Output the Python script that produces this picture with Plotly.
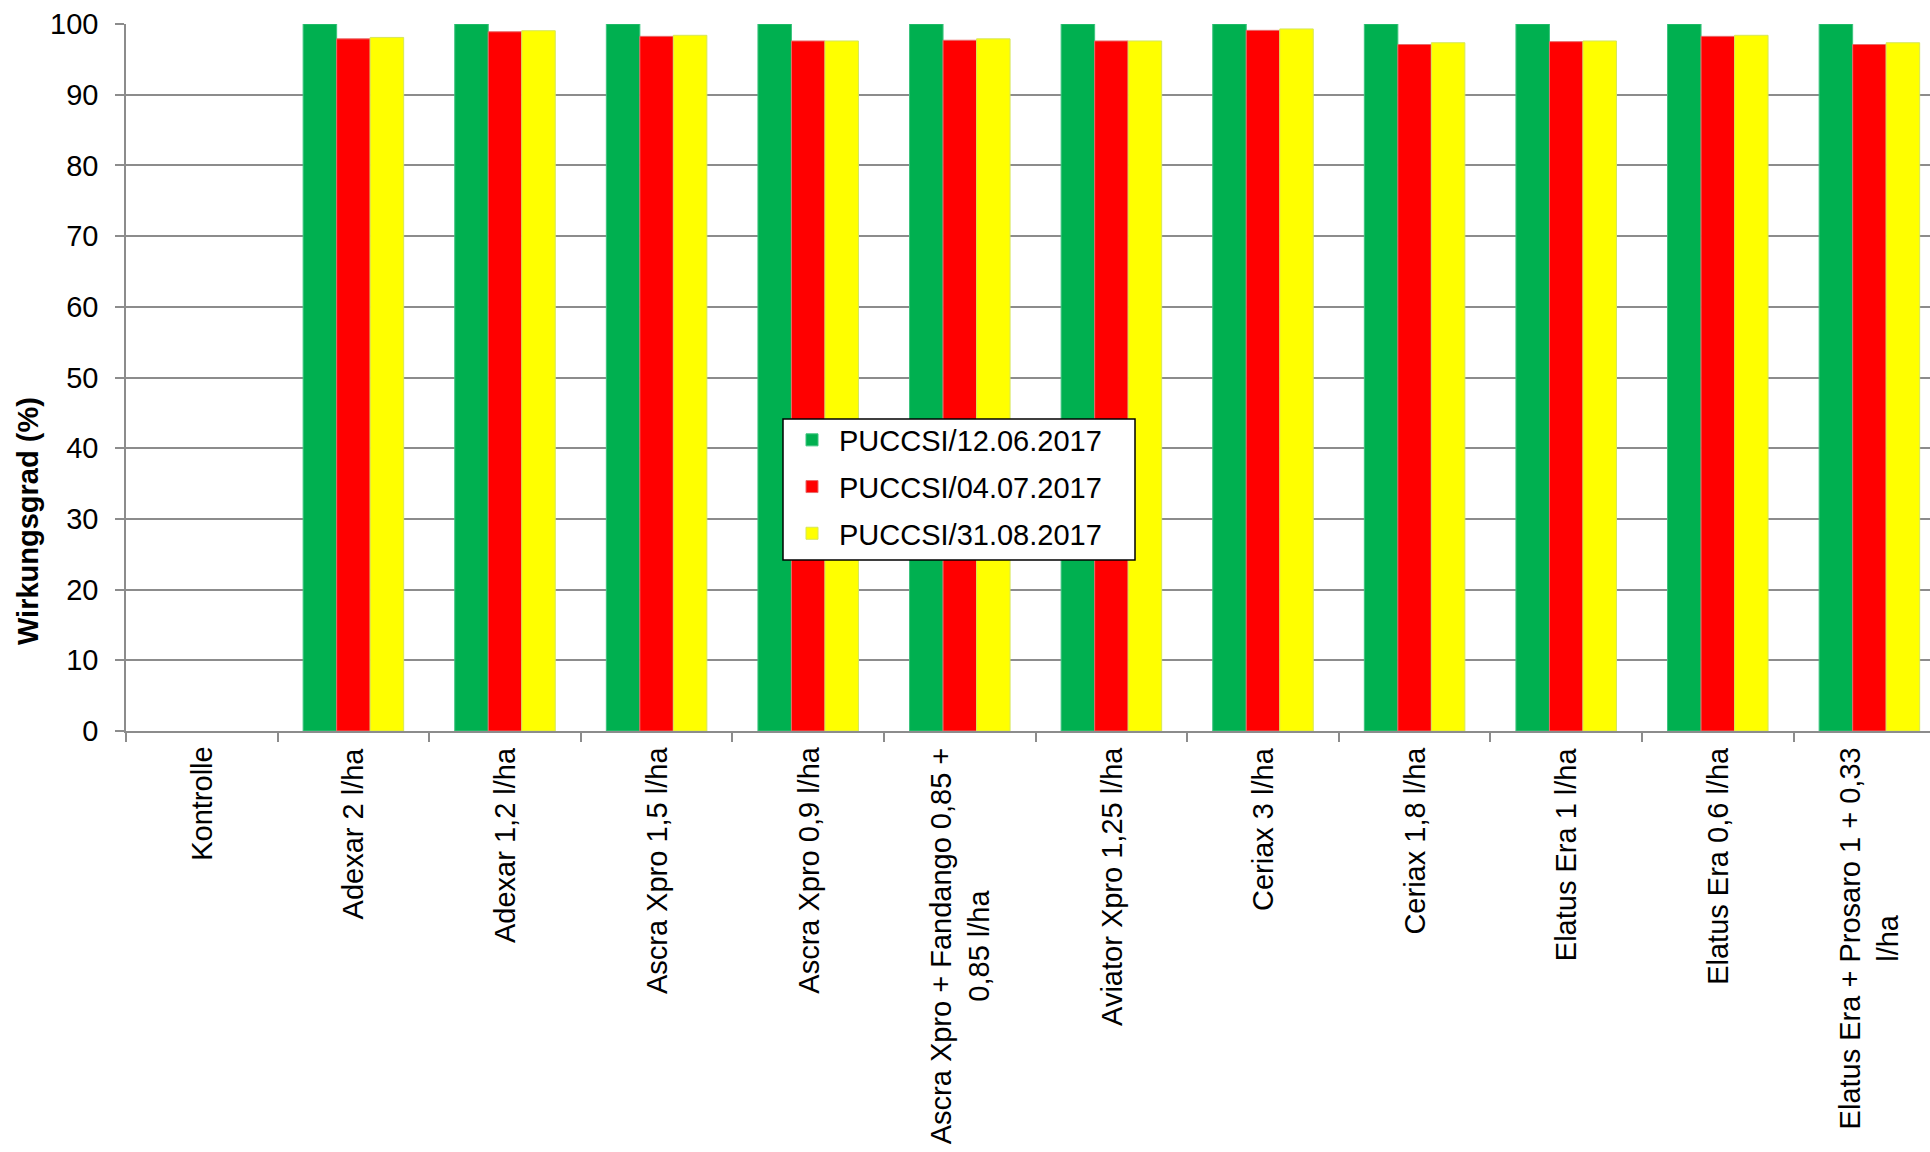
import plotly.graph_objects as go

categories = [
    "Kontrolle",
    "Adexar 2 l/ha",
    "Adexar 1,2 l/ha",
    "Ascra Xpro 1,5 l/ha",
    "Ascra Xpro 0,9 l/ha",
    "Ascra Xpro + Fandango 0,85 +<br>0,85 l/ha",
    "Aviator Xpro 1,25 l/ha",
    "Ceriax 3 l/ha",
    "Ceriax 1,8 l/ha",
    "Elatus Era 1 l/ha",
    "Elatus Era 0,6 l/ha",
    "Elatus Era + Prosaro 1 + 0,33<br>l/ha",
]

series_names = ["PUCCSI/12.06.2017", "PUCCSI/04.07.2017", "PUCCSI/31.08.2017"]

# Kontrolle has no bar drawn (None)
vals_1206 = [None, 100, 100, 100, 100, 100, 100, 100, 100, 100, 100, 100]
vals_0407 = [None, 97.9, 98.9, 98.25, 97.6, 97.7, 97.6, 99.1, 97.1, 97.5, 98.25, 97.1]
vals_3108 = [None, 98.1, 99.05, 98.4, 97.6, 97.9, 97.6, 99.3, 97.35, 97.6, 98.4, 97.35]

y_ticks = [0, 10, 20, 30, 40, 50, 60, 70, 80, 90, 100]

FONT = "Liberation Sans, Arial, sans-serif"
FS = 29
fills = ["#00B050", "#FF0000", "#FFFF00"]
edges = ["#3cc47e", "#e86a6a", "#d6e65a"]

fig = go.Figure()
for i, (name, vals) in enumerate(zip(series_names, [vals_1206, vals_0407, vals_3108])):
    fig.add_trace(go.Bar(
        x=categories, y=vals, name=name,
        marker=dict(color=fills[i], line=dict(color=edges[i], width=1)),
        legendgroup=f"g{i}",
    ))

W, H = 1930, 1152
L, T = 126, 24
AX_Y = 731
B = H - AX_Y
plot_w = W - L
plot_h = H - T - B


def px_x(p):
    return (p - L) / plot_w


def px_y(p):
    return (AX_Y - p) / plot_h


annotations = [dict(
    text="<b>Wirkungsgrad (%)</b>",
    xref="paper", yref="paper",
    x=px_x(28), y=px_y(521),
    xanchor="center", yanchor="middle",
    textangle=-90, showarrow=False,
    font=dict(family=FONT, size=FS, color="black"),
)]
for c in categories:
    annotations.append(dict(
        text=c, x=c, xref="x", yref="paper", y=px_y(745),
        xanchor="center", yanchor="top", align="center",
        textangle=-90, showarrow=False,
        font=dict(family=FONT, size=FS, color="black"),
    ))

fig.update_layout(
    width=W, height=H,
    margin=dict(l=L, r=0, t=T, b=B, pad=0),
    paper_bgcolor="white", plot_bgcolor="white",
    barmode="group", bargap=0.337, bargroupgap=0,
    font=dict(family=FONT, size=FS, color="black"),
    showlegend=True,
    legend=dict(
        x=px_x(785), y=px_y(414.5),
        xanchor="left", yanchor="top",
        bgcolor="rgba(0,0,0,0)", borderwidth=0,
        font=dict(family=FONT, size=FS, color="black"),
        tracegroupgap=6, itemwidth=44,
    ),
    shapes=[dict(
        type="rect", xref="paper", yref="paper", layer="above",
        x0=px_x(783), x1=px_x(1135), y0=px_y(560), y1=px_y(419),
        fillcolor="white", line=dict(color="black", width=1.5),
    )],
    xaxis=dict(
        type="category",
        range=[-0.5, (W - L) / 151.6 - 0.5],
        showline=True, linecolor="#8c8c8c", linewidth=1.5,
        ticks="outside", ticklen=9, tickcolor="#8c8c8c", tickwidth=1.5,
        tickson="boundaries",
        showticklabels=False,
        showgrid=False,
    ),
    yaxis=dict(
        range=[0, 100],
        tickvals=y_ticks,
        showline=True, linecolor="#8c8c8c", linewidth=1.5,
        ticks="outside", ticklen=9, tickcolor="#8c8c8c", tickwidth=1.5,
        ticklabelstandoff=11,
        showgrid=True, gridcolor="#8c8c8c", gridwidth=1.5,
        zeroline=False,
        tickfont=dict(family=FONT, size=FS, color="black"),
    ),
    annotations=annotations,
)

fig.write_html("out.html", config={"displayModeBar": False},
               post_script="document.body.style.margin='0';document.body.style.overflow='hidden';")
